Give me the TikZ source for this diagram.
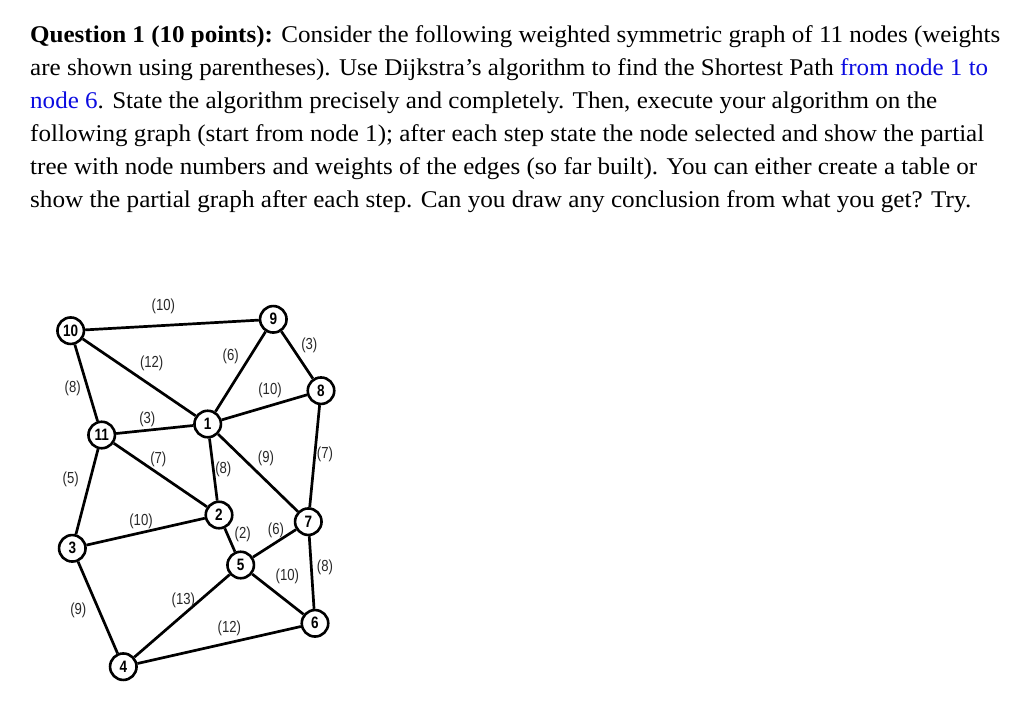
\documentclass[tikz,border=0pt]{standalone}
\usepackage{fontspec}
\setmainfont{Liberation Serif}
\newfontfamily\lblfont{Liberation Sans}
\usepackage{graphicx}
\definecolor{qblue}{RGB}{12,12,225}
\definecolor{lblgray}{RGB}{40,40,40}
\newcommand\narrowtxt[1]{\scalebox{0.82}[1]{#1}}
\begin{document}
\begin{tikzpicture}[x=1pt,y=-1pt,
  txtline/.style={anchor=base west,inner sep=0pt,font=\fontsize{24}{28}\selectfont},
  gnode/.style={circle,draw=black,fill=white,line width=2.6pt,minimum size=26.5pt,inner sep=0pt,
    font=\lblfont\bfseries\fontsize{16.5}{17}\selectfont},
  edge/.style={line width=2.7pt,black},
  wlbl/.style={inner sep=0pt,text=lblgray,font=\lblfont\fontsize{16}{17}\selectfont}]
\useasboundingbox (0,0) rectangle (1024,704);
\fill[white] (0,0) rectangle (1024,704);
% question text
\node[txtline] (t1) at (30,42.3) {\resizebox{970pt}{\height}{\textbf{Question 1 (10 points):} Consider the following weighted symmetric graph of 11 nodes (weights}};
\node[txtline] (t2) at (30,75.6) {\resizebox{958pt}{\height}{are shown using parentheses). Use Dijkstra’s algorithm to find the Shortest Path \textcolor{qblue}{from node 1 to}}};
\node[txtline] (t3) at (30,108.6) {\resizebox{907pt}{\height}{\textcolor{qblue}{node 6}. State the algorithm precisely and completely. Then, execute your algorithm on the}};
\node[txtline] (t4) at (30,141.7) {\resizebox{954pt}{\height}{following graph (start from node 1); after each step state the node selected and show the partial}};
\node[txtline] (t5) at (30,174.6) {\resizebox{947pt}{\height}{tree with node numbers and weights of the edges (so far built). You can either create a table or}};
\node[txtline] (t6) at (30,207.7) {\resizebox{941pt}{\height}{show the partial graph after each step. Can you draw any conclusion from what you get? Try.}};
% graph nodes
\node[gnode] (n10) at (70.7,330.7) {\narrowtxt{10}};
\node[gnode] (n9) at (273.3,319.3) {\narrowtxt{9}};
\node[gnode] (n8) at (321,390.7) {\narrowtxt{8}};
\node[gnode] (n1) at (207.7,424) {\narrowtxt{1}};
\node[gnode] (n11) at (101.7,435) {\narrowtxt{11}};
\node[gnode] (n2) at (219,515) {\narrowtxt{2}};
\node[gnode] (n7) at (308.3,521.7) {\narrowtxt{7}};
\node[gnode] (n3) at (72.3,548.3) {\narrowtxt{3}};
\node[gnode] (n5) at (240.7,565) {\narrowtxt{5}};
\node[gnode] (n6) at (315,623.3) {\narrowtxt{6}};
\node[gnode] (n4) at (123.3,666.7) {\narrowtxt{4}};
% edges
\draw[edge] (n10) -- (n9);
\draw[edge] (n10) -- (n1);
\draw[edge] (n10) -- (n11);
\draw[edge] (n9) -- (n1);
\draw[edge] (n9) -- (n8);
\draw[edge] (n8) -- (n1);
\draw[edge] (n8) -- (n7);
\draw[edge] (n11) -- (n1);
\draw[edge] (n11) -- (n2);
\draw[edge] (n11) -- (n3);
\draw[edge] (n1) -- (n2);
\draw[edge] (n1) -- (n7);
\draw[edge] (n2) -- (n3);
\draw[edge] (n2) -- (n5);
\draw[edge] (n7) -- (n5);
\draw[edge] (n7) -- (n6);
\draw[edge] (n5) -- (n6);
\draw[edge] (n5) -- (n4);
\draw[edge] (n3) -- (n4);
\draw[edge] (n4) -- (n6);
% weights
\node[wlbl] (w10_9) at (163.3,306.7) {\narrowtxt{(10)}};
\node[wlbl] (w10_1) at (151.7,363.3) {\narrowtxt{(12)}};
\node[wlbl] (w9_1) at (230.7,356.7) {\narrowtxt{(6)}};
\node[wlbl] (w9_8) at (309.3,345) {\narrowtxt{(3)}};
\node[wlbl] (w10_11) at (72.7,388.3) {\narrowtxt{(8)}};
\node[wlbl] (w1_8) at (270,390.7) {\narrowtxt{(10)}};
\node[wlbl] (w11_1) at (147.3,419.3) {\narrowtxt{(3)}};
\node[wlbl] (w11_2) at (158.3,459.3) {\narrowtxt{(7)}};
\node[wlbl] (w1_2) at (223.3,469.3) {\narrowtxt{(8)}};
\node[wlbl] (w1_7) at (266,458.3) {\narrowtxt{(9)}};
\node[wlbl] (w8_7) at (325,454) {\narrowtxt{(7)}};
\node[wlbl] (w11_3) at (70.7,479.3) {\narrowtxt{(5)}};
\node[wlbl] (w3_2) at (141,521.7) {\narrowtxt{(10)}};
\node[wlbl] (w2_5) at (242.7,534.3) {\narrowtxt{(2)}};
\node[wlbl] (w5_7) at (276,530) {\narrowtxt{(6)}};
\node[wlbl] (w7_6) at (325,567.3) {\narrowtxt{(8)}};
\node[wlbl] (w5_6) at (287.3,576) {\narrowtxt{(10)}};
\node[wlbl] (w5_4) at (183.3,600) {\narrowtxt{(13)}};
\node[wlbl] (w3_4) at (78.3,610) {\narrowtxt{(9)}};
\node[wlbl] (w4_6) at (229.3,628.3) {\narrowtxt{(12)}};
\end{tikzpicture}
\end{document}
